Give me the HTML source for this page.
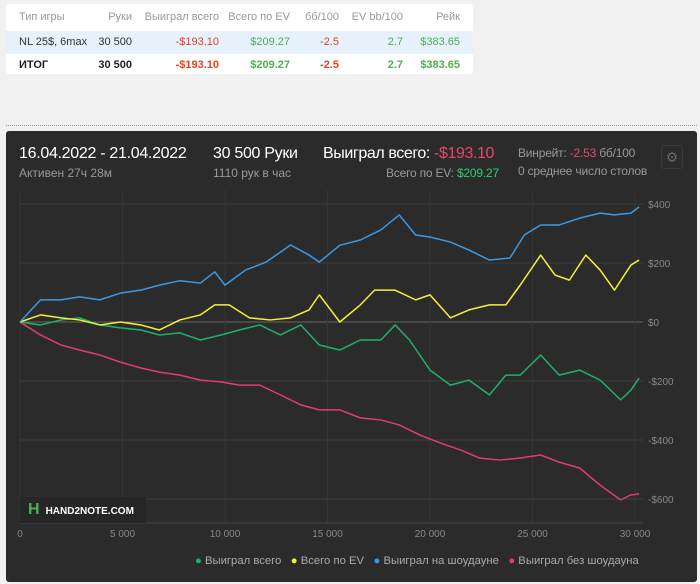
<!DOCTYPE html>
<html><head><meta charset="utf-8"><style>
body{margin:0;width:700px;height:584px;background:#f1f1f1;font-family:"Liberation Sans",sans-serif;position:relative;overflow:hidden}
.tbl{position:absolute;left:6px;top:4px;width:467px;height:70px;background:#fff;border-radius:3px;font-size:11px}
.r{position:absolute;left:0;width:467px;height:23px;line-height:23px}
.r span{position:absolute;text-align:right}
.hdr{top:2px;color:#999}
.r1{top:27px;background:#e6f1fb;color:#333}
.r2{top:50px;font-weight:bold;color:#222}
.red{color:#e4411f}.grn{color:#4caf50}
.dots{position:absolute;left:6px;top:125px;width:691px;border-top:1px dotted #999}
.panel{position:absolute;left:6px;top:131px;width:691px;height:451px;background:#2b2b2b;border-radius:3px}
.t{position:absolute;white-space:nowrap}
</style></head><body>
<div class="tbl">
<div class="r hdr"><span style="left:13px">Тип игры</span><span style="right:341px">Руки</span><span style="right:254px">Выиграл всего</span><span style="right:183px">Всего по EV</span><span style="right:134px">бб/100</span><span style="right:70px">EV bb/100</span><span style="right:13px">Рейк</span></div>
<div class="r r1"><span style="left:13px">NL 25$, 6max</span><span style="right:341px">30 500</span><span class="red" style="right:254px">-$193.10</span><span class="grn" style="right:183px">$209.27</span><span class="red" style="right:134px">-2.5</span><span class="grn" style="right:70px">2.7</span><span class="grn" style="right:13px">$383.65</span></div>
<div class="r r2"><span style="left:13px">ИТОГ</span><span style="right:341px">30 500</span><span class="red" style="right:254px">-$193.10</span><span class="grn" style="right:183px">$209.27</span><span class="red" style="right:134px">-2.5</span><span class="grn" style="right:70px">2.7</span><span class="grn" style="right:13px">$383.65</span></div>
</div>
<div class="dots"></div>
<div class="panel">
<div class="t" style="left:13px;top:14px;font-size:16px;color:#fff;letter-spacing:-0.3px">16.04.2022 - 21.04.2022</div>
<div class="t" style="left:13px;top:35px;font-size:12px;color:#999">Активен 27ч 28м</div>
<div class="t" style="left:207px;top:14px;font-size:16px;color:#fff;letter-spacing:-0.3px">30 500 Руки</div>
<div class="t" style="left:207px;top:35px;font-size:12px;color:#999">1110 рук в час</div>
<div class="t" style="left:317px;top:14px;font-size:16px;color:#fff;letter-spacing:-0.4px">Выиграл всего: <span style="color:#e8456f">-$193.10</span></div>
<div class="t" style="left:380px;top:35px;font-size:12px;color:#999;letter-spacing:-0.2px">Всего по EV: <span style="color:#2ecc71">$209.27</span></div>
<div class="t" style="left:512px;top:15px;font-size:12px;color:#999;letter-spacing:-0.2px">Винрейт: <span style="color:#e8456f">-2.53</span> бб/100</div>
<div class="t" style="left:512px;top:33px;font-size:12px;color:#999;letter-spacing:-0.2px">0 среднее число столов</div>
<div class="t" style="left:655px;top:14px;width:20px;height:22px;border:1px solid #3a3a3a;border-radius:3px;color:#666;text-align:center;line-height:22px;font-size:14px">⚙</div>
</div>
<svg id="c" width="700" height="584" style="position:absolute;left:0;top:0"></svg>
<script>
const ticksX=[0,5000,10000,15000,20000,25000,30000];
const ticksXLabels=["0","5 000","10 000","15 000","20 000","25 000","30 000"];
const ticksY=[400,200,0,-200,-400,-600];
const ticksYLabels=["$400","$200","$0","-$200","-$400","-$600"];
const blueHands=[0,1000,2000,2900,3900,4900,5900,6800,7800,8800,9500,10000,11000,12000,13200,14100,14600,15600,16600,17600,18500,19300,20000,21000,21900,22900,23900,24600,25400,26300,27300,28300,29000,29800,30200];
const blueVals=[0,75,75,85,75,98,108,125,140,132,170,125,176,203,261,227,203,260,278,312,363,295,288,271,244,210,217,295,329,329,352,369,363,369,390];
const yellowHands=[0,1000,2000,2900,3900,4900,5900,6800,7800,8800,9500,10200,11200,12200,13200,14100,14600,15600,16600,17300,18300,19300,20000,21000,21900,22900,23700,24400,25400,26100,26800,27600,28300,29000,29800,30200];
const yellowVals=[0,24,14,7,-10,0,-10,-27,7,24,58,58,14,7,14,41,92,0,58,108,108,75,92,14,41,58,58,125,227,159,142,227,176,108,193,210];
const greenHands=[0,1000,2000,2900,3900,4900,5900,6800,7800,8800,9800,10700,11700,12700,13700,14600,15600,16600,17600,18300,19000,20000,21000,21900,22900,23700,24400,25400,26300,27300,28300,29300,29800,30200];
const greenVals=[0,-10,7,14,-10,-20,-27,-44,-37,-61,-44,-27,-10,-44,-10,-78,-95,-61,-61,-10,-61,-163,-214,-197,-247,-180,-180,-112,-180,-163,-197,-264,-231,-190];
const pinkHands=[0,1000,2000,2900,3900,4900,5900,6800,7800,8800,9800,10700,11700,12700,13700,14600,15600,16600,17600,18500,19500,20500,21500,22400,23400,24400,25400,26300,27300,28300,29300,29800,30200];
const pinkVals=[0,-44,-78,-95,-112,-136,-156,-170,-180,-197,-203,-214,-214,-247,-281,-298,-298,-325,-332,-349,-383,-410,-434,-461,-468,-461,-451,-475,-495,-553,-603,-586,-583];
const NS='http://www.w3.org/2000/svg';
const svg=document.getElementById('c');
const X=h=>20+h*0.0205;
const Y=v=>322-v*0.295;
function mk(t,a){const e=document.createElementNS(NS,t);for(const k in a)e.setAttribute(k,a[k]);svg.appendChild(e);return e;}
for(let i=0;i<ticksY.length;i++){
 const l=mk('line',{x1:20,x2:643,y1:Y(ticksY[i]),y2:Y(ticksY[i]),stroke:ticksY[i]===0?'#666':'#3c3c3c','stroke-width':1});
 
 
 const t=mk('text',{x:648,y:Y(ticksY[i])+4,fill:'#888','font-size':10,'font-family':'Liberation Sans'});
 t.textContent=ticksYLabels[i];
 
 
}
for(let i=0;i<ticksX.length;i++){
 const l=mk('line',{x1:X(ticksX[i]),x2:X(ticksX[i]),y1:190,y2:523,stroke:'#353535','stroke-width':1});
 
 
 const t=mk('text',{x:X(ticksX[i]),y:537,fill:'#888','font-size':10,'text-anchor':'middle','font-family':'Liberation Sans'});
 t.textContent=ticksXLabels[i];
 
 
}
mk('line',{x1:20,x2:643,y1:523,y2:523,stroke:'#444'});
function series(h,v,c,name){
 const p=mk('polyline',{points:h.map((x,i)=>X(x)+','+Y(v[i])).join(' '),fill:'none',stroke:c,'stroke-width':1.5,'stroke-linejoin':'round'});
 
 
}
series(pinkHands,pinkVals,'#e23c6e','series-won-without-showdown');
series(greenHands,greenVals,'#1fb16a','series-won-total');
series(yellowHands,yellowVals,'#f4f03a','series-total-ev');
series(blueHands,blueVals,'#3a99e6','series-won-at-showdown');
</script>
<div class="t" style="left:20px;top:497px;width:126px;height:26px;background:#262626;color:#fff;font-size:10px;font-weight:bold;line-height:26px"><span style="color:#4caf50;font-size:16px;margin:0 6px 0 8px">H</span>HAND2NOTE.COM</div>
<div class="t" style="left:195px;top:555px;font-size:11.3px;color:#aaa">
<span><span style="color:#1fb16a">●</span> Выиграл всего</span>&nbsp;&nbsp;
<span><span style="color:#f4f03a">●</span> Всего по EV</span>&nbsp;&nbsp;
<span><span style="color:#3a99e6">●</span> Выиграл на шоудауне</span>&nbsp;&nbsp;
<span><span style="color:#e23c6e">●</span> Выиграл без шоудауна</span>
</div>
</body></html>
